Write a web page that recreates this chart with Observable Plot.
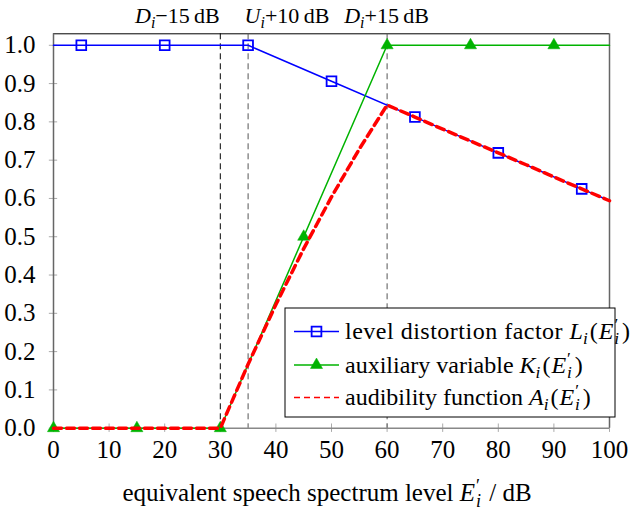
<!DOCTYPE html>
<html><head><meta charset="utf-8">
<script src="https://cdn.jsdelivr.net/npm/d3@7"></script>
<script src="https://cdn.jsdelivr.net/npm/@observablehq/plot@0.6"></script>
<style>body{margin:0;background:#fff;} #wrap{width:630px;height:509px;}
svg text, svg tspan { font-family: "Liberation Serif", "Times New Roman", Times, "DejaVu Serif", serif !important; }
</style>
</head><body><div id="wrap"></div>
<script>
// Level distortion factor L_i(E'_i)
const lX = [0, 5, 20, 35, 50, 65, 80, 95, 100];
const lY = [1, 1, 1, 1, 0.906, 0.8125, 0.719, 0.625, 0.594];
const lMarkX = [5, 20, 35, 50, 65, 80, 95];
const lMarkY = [1, 1, 1, 0.906, 0.8125, 0.719, 0.625];
// Auxiliary variable K_i(E'_i)
const kX = [0, 30, 60, 100];
const kY = [0, 0, 1, 1];
const kMarkX = [0, 15, 30, 45, 60, 75, 90];
const kMarkY = [0, 0, 0, 0.5, 1, 1, 1];
// Audibility function A_i(E'_i)
const aX = [0, 30, 35, 40, 45, 50, 55, 60, 65, 70, 75, 80, 85, 90, 95, 100];
const aY = [0, 0, 0.167, 0.323, 0.469, 0.604, 0.729, 0.844, 0.8125, 0.781, 0.75, 0.719, 0.688, 0.656, 0.625, 0.594];
// Reference lines
const refX = [30, 35, 60];
const refColor = ["#000000", "#555555", "#555555"];
const refLabels = [
  [{t:"D", it:true}, {t:"i", it:true, sub:true}, {t:"\u221215\u2009dB"}],
  [{t:"U", it:true}, {t:"i", it:true, sub:true}, {t:"+10\u2009dB"}],
  [{t:"D", it:true}, {t:"i", it:true, sub:true}, {t:"+15\u2009dB"}]
];
const refAnchor = ["end", "start", "middle"];
const xTicks = [0, 10, 20, 30, 40, 50, 60, 70, 80, 90, 100];
const yTicks = [0, 0.1, 0.2, 0.3, 0.4, 0.5, 0.6, 0.7, 0.8, 0.9, 1.0];
const seriesNames = [
  [{t:"level distortion factor ", ls:0.5}, {t:"L", it:true}, {t:"i", it:true, sub:true}, {t:"(", dx:2}, {t:"E", it:true, dx:1}, {t:"\u2032", sup:true, dx:1}, {t:"i", it:true, sub:true, dx:-4}, {t:")", dx:3}],
  [{t:"auxiliary variable "}, {t:"K", it:true}, {t:"i", it:true, sub:true}, {t:"(", dx:2}, {t:"E", it:true, dx:1}, {t:"\u2032", sup:true, dx:1}, {t:"i", it:true, sub:true, dx:-4}, {t:")", dx:3}],
  [{t:"audibility function "}, {t:"A", it:true}, {t:"i", it:true, sub:true}, {t:"(", dx:2}, {t:"E", it:true, dx:1}, {t:"\u2032", sup:true, dx:1}, {t:"i", it:true, sub:true, dx:-4}, {t:")", dx:3}]
];
const xLabel = [{t:"equivalent speech spectrum level "}, {t:"E", it:true}, {t:"\u2032", sup:true, dx:1}, {t:"i", it:true, sub:true, dx:-4}, {t:" / dB", dx:2}];

const BLUE = "#0000ff", GREEN = "#00b300", RED = "#ff0000";

const pts = (xs, ys) => xs.map((x, i) => ({x, y: ys[i]}));

const plot = Plot.plot({
  width: 630, height: 509,
  marginLeft: 53, marginRight: 21, marginTop: 33.3, marginBottom: 81.3,
  style: {fontSize: "25px", background: "#fff", color: "#000"},
  x: {domain: [0, 100]},
  y: {domain: [0, 1.03]},
  marks: [
    Plot.axisX(xTicks, {tickSize: 0, tickPadding: 12, fontSize: 25, label: null}),
    Plot.axisY(yTicks, {tickSize: 0, tickPadding: 12, dx: -6, fontSize: 25, label: null, tickFormat: d3.format(".1f")}),
    Plot.ruleX(xTicks, {y1: -0.011, y2: 0.011, stroke: "#aaaaaa", strokeWidth: 1}),
    Plot.ruleY(yTicks, {x1: -0.75, x2: 0.75, stroke: "#aaaaaa", strokeWidth: 1}),
    Plot.ruleY([0], {stroke: "#888888", strokeWidth: 1.5}),
    Plot.ruleY([1.03], {stroke: "#000000", strokeWidth: 1}),
    Plot.ruleX([0, 100], {stroke: "#666666", strokeWidth: 1.5}),
    Plot.ruleX([refX[0]], {stroke: refColor[0], strokeDasharray: "6,4", strokeWidth: 1}),
    Plot.ruleX(refX.slice(1), {stroke: refColor[1], strokeDasharray: "6,4", strokeWidth: 1}),
    Plot.line(pts(lX, lY), {x: "x", y: "y", stroke: BLUE, strokeWidth: 1.5}),
    Plot.dot(pts(lMarkX, lMarkY), {x: "x", y: "y", symbol: "square", r: 5.5, stroke: BLUE, strokeWidth: 1.8, fill: "none"}),
    Plot.line(pts(kX, kY), {x: "x", y: "y", stroke: GREEN, strokeWidth: 1.5}),
    Plot.dot(pts(kMarkX, kMarkY), {x: "x", y: "y", symbol: "triangle", r: 4.5, fill: GREEN, stroke: GREEN, strokeWidth: 0.5}),
    Plot.line(pts(aX, aY), {x: "x", y: "y", stroke: RED, strokeWidth: 3.5, strokeDasharray: "8,5"})
  ]
});

document.getElementById("wrap").appendChild(plot);
const svg = d3.select(plot);
const sx = plot.scale("x");

function rich(g, x, y, segs, size, anchor) {
  const t = g.append("text").attr("x", x).attr("y", y)
    .attr("text-anchor", anchor).attr("font-size", size)
    .attr("fill", "#000");
  let cur = 0;
  segs.forEach(s => {
    const ts = t.append("tspan").text(s.t);
    let shift = 0, fs = size;
    if (s.sub) { shift = size * 0.22; fs = size * 0.72; }
    if (s.sup) { shift = -size * 0.36; fs = size * 0.72; }
    ts.attr("font-size", fs);
    ts.style("letter-spacing", (s.ls || 0) + "px");
    if (s.it) ts.attr("font-style", "italic");
    if (shift !== cur) { ts.attr("dy", shift - cur); cur = shift; }
    if (s.dx) ts.attr("dx", s.dx);
  });
  return t;
}

const g = svg.append("g");
refX.forEach((v, i) => rich(g, sx.apply(v) + (refAnchor[i] === "start" ? -3 : 0), 23, refLabels[i], 22, refAnchor[i]));

rich(g, (sx.apply(0) + sx.apply(100)) / 2 - 4, 501, xLabel, 25, "middle");

const lg = svg.append("g");
lg.append("rect").attr("x", 285).attr("y", 308).attr("width", 330).attr("height", 109)
  .attr("fill", "#fff").attr("stroke", "#000").attr("stroke-width", 1);
const rowY = [331.5, 365, 397.5];
lg.append("line").attr("x1", 294).attr("x2", 339).attr("y1", rowY[0]).attr("y2", rowY[0]).attr("stroke", BLUE).attr("stroke-width", 1.5);
lg.append("path").attr("d", d3.symbol(d3.symbolSquare, 5.5 * 5.5 * Math.PI)()).attr("transform", `translate(316.5,${rowY[0]})`).attr("fill", "none").attr("stroke", BLUE).attr("stroke-width", 1.8);
lg.append("line").attr("x1", 294).attr("x2", 339).attr("y1", rowY[1]).attr("y2", rowY[1]).attr("stroke", GREEN).attr("stroke-width", 1.5);
lg.append("path").attr("d", d3.symbol(d3.symbolTriangle, 4.5 * 4.5 * Math.PI)()).attr("transform", `translate(316.5,${rowY[1]})`).attr("fill", GREEN).attr("stroke", GREEN).attr("stroke-width", 0.5);
lg.append("line").attr("x1", 294).attr("x2", 339).attr("y1", rowY[2]).attr("y2", rowY[2]).attr("stroke", RED).attr("stroke-width", 1.5).attr("stroke-dasharray", "6,4");
seriesNames.forEach((s, i) => rich(lg, 345, rowY[i] + 7.5, s, 24, "start"));
</script></body></html>
